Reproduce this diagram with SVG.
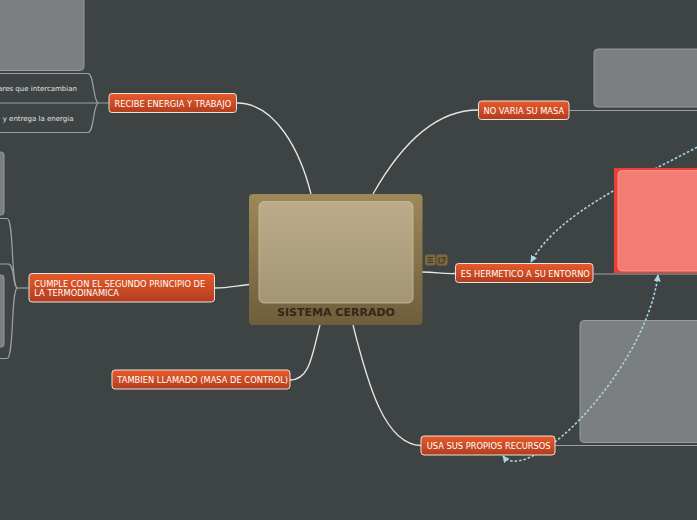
<svg xmlns="http://www.w3.org/2000/svg" width="697" height="520" viewBox="0 0 697 520">
<defs>
<linearGradient id="og" x1="0" y1="0" x2="0" y2="1"><stop offset="0" stop-color="#e85a2a"/><stop offset="1" stop-color="#b23d1e"/></linearGradient>
<linearGradient id="cg" x1="0" y1="0" x2="0" y2="1"><stop offset="0" stop-color="#9d8859"/><stop offset="1" stop-color="#6f5e3c"/></linearGradient>
<linearGradient id="ig" x1="0" y1="0" x2="0" y2="1"><stop offset="0" stop-color="#bcac8b"/><stop offset="1" stop-color="#a39575"/></linearGradient>
<marker id="ar" viewBox="0 0 10 10" refX="9" refY="5" markerWidth="7" markerHeight="7" markerUnits="userSpaceOnUse" orient="auto-start-reverse"><path d="M0,0 L10,5 L0,10 z" fill="#a9d6e3"/></marker>
<style>
.bg{fill:#3e4444}
.con{fill:none;stroke:#e6e6e6;stroke-width:1.3}
.gl{fill:none;stroke:#9da1a1;stroke-width:1.2}
.dash{fill:none;stroke:#a9d6e3;stroke-width:1.6;stroke-dasharray:2.5 2}
.on{fill:url(#og);stroke:#e8e0dc;stroke-width:1}
.ot{font-family:"DejaVu Sans",Verdana,sans-serif;font-size:8.3px;fill:#ffffff}
.gb{fill:#7b7f7f;stroke:#979b9b;stroke-width:1}
.st{font-family:"DejaVu Sans",Verdana,sans-serif;font-size:7px;fill:#e2e2e2}
</style>
</defs>
<rect class="bg" x="0" y="0" width="697" height="520"/>

<g id="side-shapes">
<rect class="gb" x="-10" y="-10" width="94" height="80.5" rx="4"/>
<rect class="gb" x="-10" y="152" width="14" height="63" rx="3"/>
<rect class="gb" x="-10" y="275" width="14" height="72" rx="3"/>
<rect class="gb" x="594" y="49" width="120" height="58" rx="4"/>
<rect class="gb" x="580" y="320.5" width="130" height="122" rx="4"/>
</g>

<g id="connectors">
<path class="con" d="M311,194 C300,150 275,103 237,103"/>
<path class="con" d="M373,194 C395,155 430,110 478,110"/>
<path class="con" d="M422,272 C438,272 440,274 455,273.5"/>
<path class="con" d="M249,284.5 C235,286 228,288 215,288"/>
<path class="con" d="M320,325 C312,355 310,380 290,380"/>
<path class="con" d="M353,325 C368,385 385,445 421,445.5"/>
<path class="gl" d="M569,110.5 H697"/>
<path class="gl" d="M593,274 H697"/>
<path class="gl" d="M555,445.5 H697"/>
<path class="gl" d="M0,73.5 H88 C94,73.5 93,100 98,103"/>
<path class="gl" d="M0,132.5 H88 C94,132.5 93,106 98,103"/>
<path class="gl" d="M0,103 H109"/>
<path class="gl" d="M0,218.5 H7 C14,218.5 11,284 17,288"/>
<path class="gl" d="M0,264 H8 C15,264 12,284 17,288"/>
<path class="gl" d="M0,358.5 H7 C14,358.5 11,292 17,288"/>
<path class="gl" d="M17,288 H29"/>
<path class="dash" d="M705,143 C640,178 560,210 531,262" marker-end="url(#ar)"/>
<path class="dash" d="M658,275 C650,340 590,420 545,449 C525,462 510,465 503,456" marker-start="url(#ar)" marker-end="url(#ar)"/>
</g>

<g id="pink-box">
<rect x="614" y="168" width="100" height="105" fill="#ee3f36"/>
<rect x="618" y="170.5" width="96" height="100.5" rx="4" fill="#f47d73" stroke="#f7a39c" stroke-width="0.8"/>
</g>

<g id="left-texts">
<text class="st" x="77" y="90.5" text-anchor="end">ares que intercambian</text>
<text class="st" x="73.5" y="121" text-anchor="end">y entrega la energia</text>
</g>

<g id="central">
<rect x="249" y="194" width="173.5" height="131" rx="4" fill="url(#cg)"/>
<rect x="259" y="201.5" width="154" height="101.5" rx="5" fill="url(#ig)" stroke="#cbbf9f" stroke-width="0.8"/>
<text x="336" y="315.5" text-anchor="middle" font-family="'DejaVu Sans',Verdana,sans-serif" font-size="11" font-weight="bold" fill="#3b2414">SISTEMA CERRADO</text>
<rect x="425" y="254.5" width="10.5" height="11" rx="2" fill="#7c6a43"/>
<path d="M427.5,257.5 h5.5 M427.5,260 h5.5 M427.5,262.5 h5.5" stroke="#3b2c16" stroke-width="0.9"/>
<rect x="436.5" y="254.5" width="11" height="11" rx="2" fill="#7c6a43"/>
<path d="M444,260.5 v2.5 h-5 v-5 h2.5 M442,257.5 h3 v3 M445,257.5 l-3,3" stroke="#3b2c16" stroke-width="0.9" fill="none"/>
</g>

<g id="n-recibe">
<rect class="on" x="109" y="93.5" width="127.5" height="19" rx="3"/>
<text class="ot" x="114.5" y="106.5">RECIBE ENERGIA Y TRABAJO</text>
</g>
<g id="n-novaria">
<rect class="on" x="478.5" y="101" width="90.5" height="18.5" rx="3"/>
<text class="ot" x="483.5" y="113.8">NO VARIA SU MASA</text>
</g>
<g id="n-hermetico">
<rect class="on" x="455.5" y="263.5" width="137.5" height="19" rx="3"/>
<text class="ot" x="460.8" y="276.5">ES HERMETICO A SU ENTORNO</text>
</g>
<g id="n-cumple">
<rect class="on" x="29" y="273.5" width="185.5" height="28.5" rx="3"/>
<text class="ot" x="34.3" y="287">CUMPLE CON EL SEGUNDO PRINCIPIO DE</text>
<text class="ot" x="34.3" y="296">LA TERMODINAMICA</text>
</g>
<g id="n-tambien">
<rect class="on" x="112" y="370" width="178" height="19" rx="3"/>
<text class="ot" x="117.3" y="382.8">TAMBIEN LLAMADO (MASA DE CONTROL)</text>
</g>
<g id="n-usa">
<rect class="on" x="421" y="436" width="134" height="19" rx="3"/>
<text class="ot" x="426.7" y="449">USA SUS PROPIOS RECURSOS</text>
</g>
</svg>
